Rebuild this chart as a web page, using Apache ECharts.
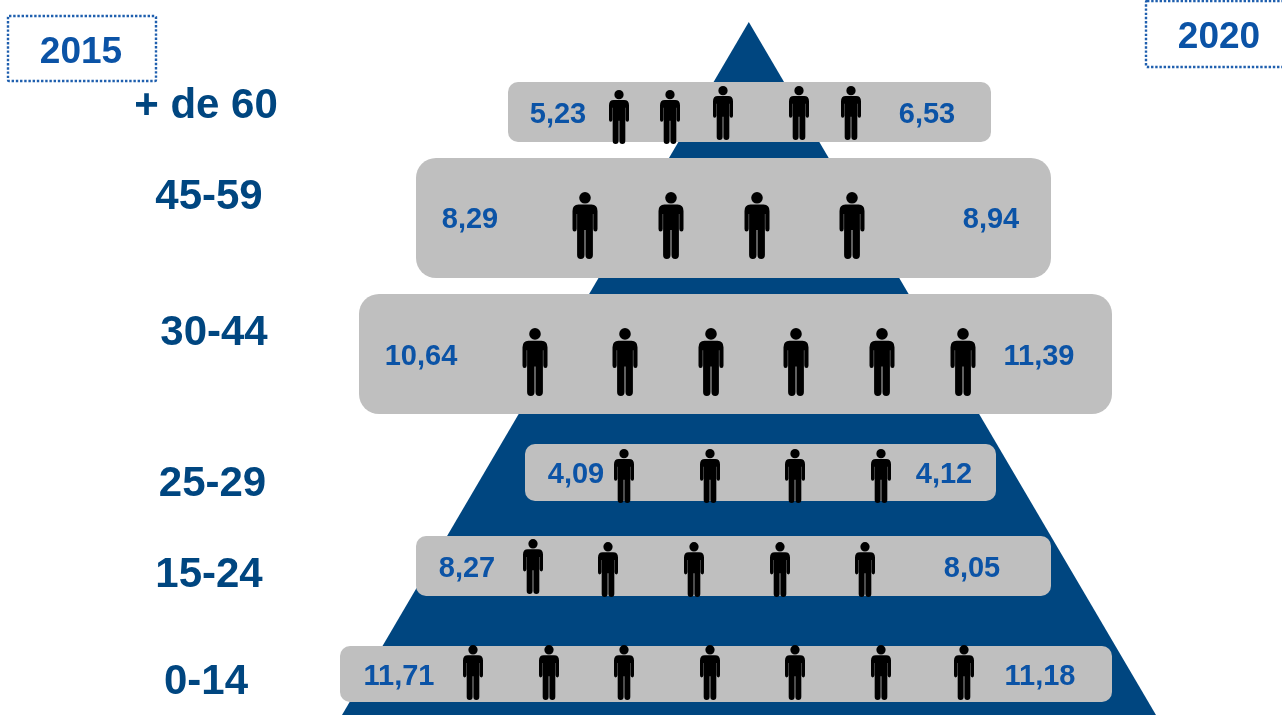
<!DOCTYPE html>
<html><head><meta charset="utf-8">
<style>html,body{margin:0;padding:0;background:#fff}#c{width:1282px;height:715px}</style>
<script src="https://cdn.jsdelivr.net/npm/echarts@6/dist/echarts.min.js"></script>
</head><body><div id="c"></div>
<script>
// --- chart content ---
const categories = ['+ de 60','45-59','30-44','25-29','15-24','0-14'];
const values2015 = ['5,23','8,29','10,64','4,09','8,27','11,71'];
const values2020 = ['6,53','8,94','11,39','4,12','8,05','11,18'];
const years = ['2015','2020'];

// --- layout, in page pixels, read through the hidden axes ---
const pyramid = [[748.8,22],[1156,715],[342,715]];
const rowLeft   = [508,416,359,525,416,340];
const rowRight  = [991,1051,1112,996,1051,1112];
const rowTop    = [82,158,294,444,536,646];
const rowBottom = [142,278,414,501,596,702];
const rowRadius = [10,20,20,10,10,10];
const catX = [206,209,214,212.5,209,206];
const catY = [106.5,197.5,333.5,484.5,575.5,682.5];
const val15X = [558,470,421,576,467,399];
const val20X = [927,991,1039,944,972,1040];
const valY = [114.5,219.5,356.5,474.5,568.5,676.5];
const yearBoxes = [[8,16,156,81],[1146,1,1290,67]];
const yearX = [81,1219];
const yearY = [53,38];
const personW = [20,25,25,20,20,20];
const personH = [54,67,68,54,55,55];
const personX = [[619,670,723,799,851],[585,671,757,852],[535,625,711,796,882,963],[624,710,795,881],[533,608,694,780,865],[473,549,624,710,795,881,964]];
const personTop = [[90,90,86,86,86],[192,192,192,192],[328,328,328,328,328,328],[449,449,449,449],[539,542,542,542,542],[645,645,645,645,645,645,645]];

const BLUE='#004680', TXT='#0B53A6', GREY='#BFBFBF';
const personPath='path://M6.7 5.8A5.8 5.8 0 1 1 18.3 5.8A5.8 5.8 0 1 1 6.7 5.8ZM6 12.5L19 12.5Q25 12.5 25 19L25 37Q25 39.5 23 39.5Q20.8 39.5 20.8 37L20.8 22L20.4 22L20.4 63Q20.4 67 16.7 67Q13 67 13 63L13 38L12 38L12 63Q12 67 8.3 67Q4.6 67 4.6 63L4.6 22L4.2 22L4.2 37Q4.2 39.5 2 39.5Q0 39.5 0 37L0 19Q0 12.5 6 12.5Z';

const persons=[];
personX.forEach((xs,r)=>xs.forEach((x,i)=>persons.push({
  value:[x,personTop[r][i]+personH[r]/2], symbolSize:[personW[r],personH[r]]
})));

const textSeries=(name,rows,font,color)=>({
  name,type:'custom',coordinateSystem:'cartesian2d',z:5,silent:true,
  data:rows,
  encode:{x:0,y:1},
  renderItem:(p,api)=>{
    const c=api.coord([api.value(0),api.value(1)]);
    return {type:'text',style:{x:c[0],y:c[1],text:rows[p.dataIndex][2],fill:color,
      font:font,textAlign:'center',textVerticalAlign:'middle'}};
  }
});

const chart=echarts.init(document.getElementById('c'),null,{renderer:'canvas'});
chart.setOption({
  animation:false,
  backgroundColor:'#fff',
  grid:{left:0,top:0,right:0,bottom:0},
  xAxis:{type:'value',min:0,max:1282,show:false},
  yAxis:{type:'value',min:0,max:715,inverse:true,show:false},
  series:[
    {name:'pyramid',type:'custom',z:1,silent:true,data:[0],clip:true,
     renderItem:(p,api)=>({type:'polygon',shape:{points:pyramid.map(q=>api.coord(q))},style:{fill:BLUE}})},
    {name:'rows',type:'custom',z:2,silent:true,
     data:categories.map((c,i)=>[rowLeft[i],rowTop[i],rowRight[i],rowBottom[i],rowRadius[i]]),
     encode:{x:[0,2],y:[1,3]},
     renderItem:(p,api)=>{
       const a=api.coord([api.value(0),api.value(1)]),b=api.coord([api.value(2),api.value(3)]);
       return {type:'rect',shape:{x:a[0],y:a[1],width:b[0]-a[0],height:b[1]-a[1],r:api.value(4)},style:{fill:GREY}};
     }},
    {name:'persons',type:'scatter',z:3,silent:true,symbol:personPath,symbolKeepAspect:false,
     itemStyle:{color:'#000',opacity:1},data:persons},
    {name:'yearBoxes',type:'custom',z:4,silent:true,data:yearBoxes,encode:{x:[0,2],y:[1,3]},
     renderItem:(p,api)=>{
       const a=api.coord([api.value(0),api.value(1)]),b=api.coord([api.value(2),api.value(3)]);
       return {type:'rect',shape:{x:a[0],y:a[1],width:b[0]-a[0],height:b[1]-a[1],r:1},
         style:{fill:'none',stroke:'#1F5FAE',lineWidth:2.4,lineDash:[2.4,1.8]}};
     }},
    textSeries('years',years.map((t,i)=>[yearX[i],yearY[i],t]),'bold 37px "Liberation Sans", Arial',TXT),
    textSeries('ages',categories.map((t,i)=>[catX[i],catY[i],t]),'bold 42px "Liberation Sans", Arial',BLUE),
    textSeries('v2015',values2015.map((t,i)=>[val15X[i],valY[i],t]),'bold 29px "Liberation Sans", Arial',TXT),
    textSeries('v2020',values2020.map((t,i)=>[val20X[i],valY[i],t]),'bold 29px "Liberation Sans", Arial',TXT)
  ]
});
</script></body></html>
